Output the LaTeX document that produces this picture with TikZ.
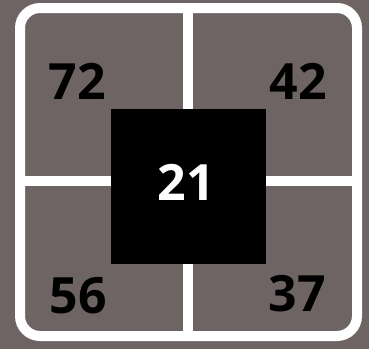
\documentclass[tikz,border=0pt]{standalone}
\usepackage{fontspec}
\setmainfont{Open Sans}
\usepackage{xcolor}
\usepackage{tikz}
\usetikzlibrary{positioning}
\definecolor{mytaupe}{RGB}{111,100,100}
\tikzstyle{frameline} = [draw=white, line width=10pt]
\tikzstyle{cornernum} = [font=\fontsize{50}{50}\selectfont\bfseries, text=black, inner sep=0pt]

\begin{document}
\begin{tikzpicture}[x=1pt,y=-1pt]
\fill[mytaupe] (0,0) rectangle (369,349);
\useasboundingbox (0,0) rectangle (369,349);

\coordinate (top) at (188,13);
\coordinate (bottom) at (188,331);
\coordinate (left) at (25,181);
\coordinate (right) at (352,181);

\draw[frameline] (top) -- (bottom);
\draw[frameline] (left) -- (right);
\draw[frameline, rounded corners=20pt] (20,8) rectangle (357,336);

\node[
fill=black,
minimum width=155pt,
minimum height=155pt,
inner sep=0pt
] (centre) at (188.5,186.5) {};
\node[cornernum, text=white] (mid) at (186,182) {21};

\node[cornernum] (tl) at (77,81) {72};
\node[cornernum] (tr) at (298,81) {42};
\node[cornernum] (bl) at (78,296) {56};
\node[cornernum] (br) at (297,294) {37};
\end{tikzpicture}
\end{document}
